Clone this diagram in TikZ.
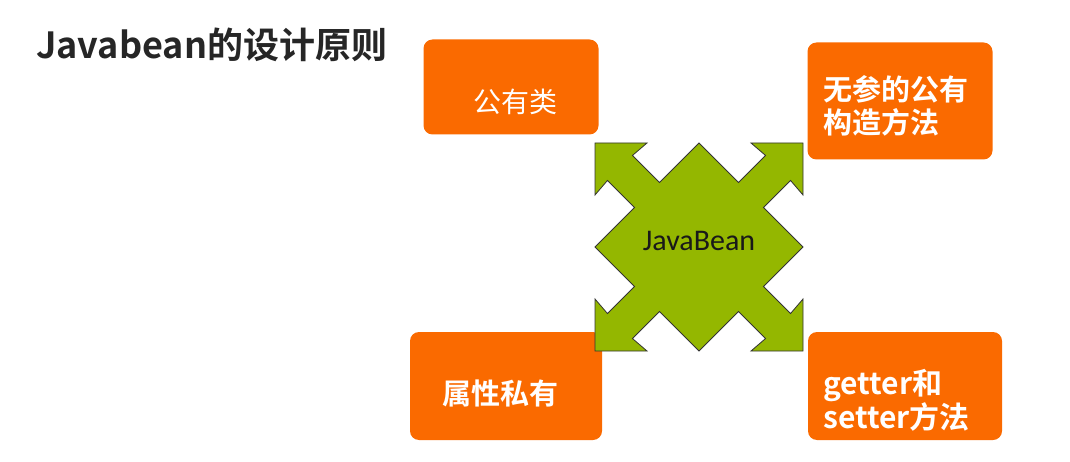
\documentclass[tikz,border=0pt]{standalone}
\usepackage{fontspec}
\setmainfont{Noto Sans CJK SC}[BoldFont={Noto Sans CJK SC Bold}]
\newfontfamily\beanfont{Carlito}
\definecolor{beanorange}{HTML}{FA6A00}
\definecolor{beangreen}{HTML}{94B700}

\begin{document}
\begin{tikzpicture}[x=1pt, y=-1pt,
    card/.style={rectangle, fill=beanorange, rounded corners=9pt, inner sep=0pt},
    cardtext/.style={text=white, inner sep=0pt, align=left, font=\bfseries\fontsize{29}{33}\selectfont}]

    \useasboundingbox (0,0) rectangle (1070,462);

    \node[anchor=west, inner sep=0pt, font=\bfseries\fontsize{36}{42}\selectfont, text=black!85] (title) at (36,45) {Javabean的设计原则};

    % the four principles
    \node[card, minimum width=175pt, minimum height=95pt] (pub) at (511,87) {};
    \node[card, minimum width=185pt, minimum height=117pt] (ctor) at (900,101) {};
    \node[card, minimum width=192pt, minimum height=108pt] (priv) at (506,386) {};
    \node[card, minimum width=194pt, minimum height=108pt] (acc) at (905,386) {};

    \node[cardtext, font=\fontsize{28}{33}\selectfont] (pubtext) at (515,102) {公有类};
    \node[cardtext, anchor=west] (ctortext) at (823,106) {无参的公有\\构造方法};
    \node[cardtext] (privtext) at (500,393) {属性私有};
    \node[cardtext, anchor=west, font=\bfseries\fontsize{30}{34}\selectfont] (acctext) at (823,400) {getter和\\setter方法};

    % four-way arrow in the middle
    \begin{scope}[shift={(699,247)}, x=104pt, y=104pt]
      \draw[fill=beangreen, draw=black!80, line width=0.8pt, line join=miter]
        (-1,1) -- (-0.5,1) -- (-0.64,0.88) -- (-0.38,0.62) -- (0,1)
        -- (0.38,0.62) -- (0.64,0.88) -- (0.5,1) -- (1,1)
        -- (1,0.5) -- (0.88,0.64) -- (0.62,0.38) -- (1,0)
        -- (0.62,-0.38) -- (0.88,-0.64) -- (1,-0.5) -- (1,-1)
        -- (0.5,-1) -- (0.64,-0.88) -- (0.38,-0.62) -- (0,-1)
        -- (-0.38,-0.62) -- (-0.64,-0.88) -- (-0.5,-1) -- (-1,-1)
        -- (-1,-0.5) -- (-0.88,-0.64) -- (-0.62,-0.38) -- (-1,0)
        -- (-0.62,0.38) -- (-0.88,0.64) -- (-1,0.5) -- cycle;
    \end{scope}
    \node[font=\beanfont\fontsize{30}{34}\selectfont, text=black!90] (bean) at (699,241) {JavaBean};
  \end{tikzpicture}
\end{document}
